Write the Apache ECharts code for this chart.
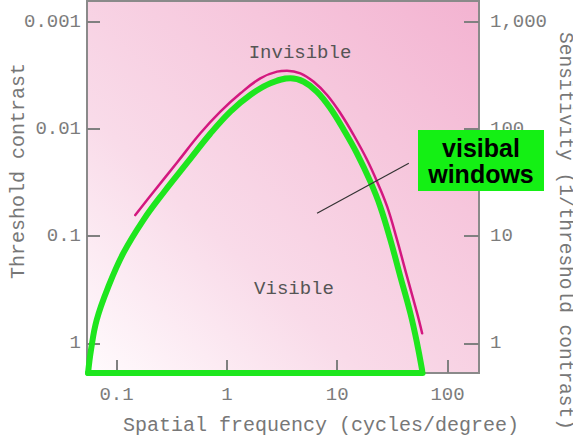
<!DOCTYPE html>
<html>
<head>
<meta charset="utf-8">
<script src="https://cdn.jsdelivr.net/npm/echarts@6/dist/echarts.min.js"></script>
<style>
html,body{margin:0;padding:0;background:#fff;}
#chart{width:573px;height:436px;}
</style>
</head>
<body>
<div id="chart"></div>
<script>
// Spatial frequency (cycles/degree) and sensitivity (1/threshold contrast)
var magentaFreq = [0.148, 0.217, 0.354, 0.575, 0.873, 1.33, 2.01, 2.85, 3.51, 4.64, 6.13, 8.10, 10.7, 14.1, 18.7, 23.0, 28.4, 34.9, 43.0, 53.1, 58.9];
var magentaSens = [15.7, 25.9, 48.6, 91, 145, 215, 296, 342, 349, 330, 275, 207, 140, 87.7, 51.3, 32.2, 18.8, 9.2, 4.18, 1.90, 1.24];

var greenFreq = [0.0552, 0.0587, 0.0661, 0.0843, 0.1152, 0.175, 0.2695, 0.4355, 0.704, 1.076, 1.63, 2.48, 3.77, 4.98, 6.57, 8.67, 11.5, 15.1, 20.0, 24.6, 30.4, 37.4, 46.1, 53.0, 58.9];
var greenSens = [0.528, 0.866, 1.649, 3.37, 6.92, 14.1, 25.8, 48.1, 89.6, 145, 207, 266, 296, 275, 222, 156, 97.7, 59.2, 32.2, 18.8, 9.2, 4.18, 1.90, 1.0, 0.56];

var baseFreq = [0.0552, 59.5];
var baseSens = [0.528, 0.528];

var pointerFreq = [6.57, 44.6];
var pointerSens = [16.3, 47.8];

var xTickValues = [0.1, 1, 10, 100];
var xTickLabels = ['0.1', '1', '10', '100'];
var contrastTickValues = [0.001, 0.01, 0.1, 1];
var contrastTickLabels = ['0.001', '0.01', '0.1', '1'];
var sensTickValues = [1, 10, 100, 1000];
var sensTickLabels = ['1', '10', '100', '1,000'];

var xMin = 0.054, xMax = 193;
var sMin = 0.528, sMax = 1560;

function pairs(xs, ys) { return xs.map(function (x, i) { return [x, ys[i]]; }); }
function labelFor(values, labels) {
  return function (v) {
    for (var i = 0; i < values.length; i++) {
      if (Math.abs(Math.log10(v) - Math.log10(values[i])) < 1e-6) return labels[i];
    }
    return '';
  };
}

var FONT = '"Liberation Mono", "Courier New", monospace';
var LABEL_COLOR = '#7c7c7c';

var chart = echarts.init(document.getElementById('chart'), null, { renderer: 'svg' });
chart.setOption({
  animation: false,
  backgroundColor: '#ffffff',
  grid: {
    left: 87, right: 94, top: 1, bottom: 63,
    show: true,
    borderColor: '#8a8a8a',
    borderWidth: 2,
    backgroundColor: new echarts.graphic.LinearGradient(0, 1, 1, 0, [
      { offset: 0, color: '#fffbfd' },
      { offset: 0.35, color: '#f9dbe9' },
      { offset: 0.7, color: '#f6c6dc' },
      { offset: 1, color: '#f3b3d1' }
    ])
  },
  xAxis: {
    type: 'log', logBase: 10, min: xMin, max: xMax,
    axisLine: { show: false },
    splitLine: { show: false },
    minorTick: { show: false },
    axisTick: { inside: true, length: 13, customValues: xTickValues, lineStyle: { color: '#808080', width: 2 } },
    axisLabel: { customValues: xTickValues, formatter: labelFor(xTickValues, xTickLabels), margin: 12,
      fontFamily: FONT, fontSize: 19, color: LABEL_COLOR }
  },
  yAxis: [
    {
      type: 'log', logBase: 10, inverse: true, min: 1 / sMax, max: 1 / sMin,
      position: 'left',
      axisLine: { show: false },
      splitLine: { show: false },
      axisTick: { inside: true, length: 13, customValues: contrastTickValues, lineStyle: { color: '#808080', width: 2 } },
      axisLabel: { customValues: contrastTickValues, formatter: labelFor(contrastTickValues, contrastTickLabels), margin: 6,
        fontFamily: FONT, fontSize: 19, color: LABEL_COLOR }
    },
    {
      type: 'log', logBase: 10, min: sMin, max: sMax,
      position: 'right',
      axisLine: { show: false },
      splitLine: { show: false },
      axisTick: { inside: true, length: 15, customValues: sensTickValues, lineStyle: { color: '#808080', width: 2 } },
      axisLabel: { customValues: sensTickValues, formatter: labelFor(sensTickValues, sensTickLabels), margin: 11,
        fontFamily: FONT, fontSize: 19, color: LABEL_COLOR }
    }
  ],
  series: [
    {
      name: 'visible window', type: 'line', yAxisIndex: 1, data: pairs(greenFreq, greenSens),
      smooth: 0.4, showSymbol: false, clip: false, z: 3,
      lineStyle: { color: '#1ee61e', width: 6, cap: 'round', join: 'round' }
    },
    {
      name: 'base', type: 'line', yAxisIndex: 1, data: pairs(baseFreq, baseSens),
      showSymbol: false, clip: false, z: 3,
      lineStyle: { color: '#1ee61e', width: 6, cap: 'round' }
    },
    {
      name: 'CSF', type: 'line', yAxisIndex: 1, data: pairs(magentaFreq, magentaSens),
      smooth: 0.4, showSymbol: false, z: 4,
      lineStyle: { color: '#d3187f', width: 2.5, cap: 'round' }
    },
    {
      name: 'pointer', type: 'line', yAxisIndex: 1, data: pairs(pointerFreq, pointerSens),
      showSymbol: false, z: 5,
      lineStyle: { color: '#333333', width: 1.2 }
    }
  ],
  graphic: [
    { type: 'text', x: 300, y: 53, z: 10,
      style: { text: 'Invisible', font: '19px ' + FONT, fill: '#555555', align: 'center', verticalAlign: 'middle' } },
    { type: 'text', x: 294, y: 289, z: 10,
      style: { text: 'Visible', font: '19px ' + FONT, fill: '#555555', align: 'center', verticalAlign: 'middle' } },
    { type: 'text', x: 18, y: 171, rotation: Math.PI / 2, z: 10,
      style: { text: 'Threshold contrast', font: '20px ' + FONT, fill: '#777777', align: 'center', verticalAlign: 'middle' } },
    { type: 'text', x: 565, y: 231, rotation: -Math.PI / 2, z: 10,
      style: { text: 'Sensitivity (1/threshold contrast)', font: '19.5px ' + FONT, fill: '#777777', align: 'center', verticalAlign: 'middle' } },
    { type: 'text', x: 321, y: 425, z: 10,
      style: { text: 'Spatial frequency (cycles/degree)', font: '20px ' + FONT, fill: '#777777', align: 'center', verticalAlign: 'middle' } },
    { type: 'rect', shape: { x: 418, y: 130, width: 126, height: 61 }, z: 20,
      style: { fill: '#14f014' } },
    { type: 'text', x: 481, y: 161, z: 21,
      style: { text: 'visibal\nwindows', font: 'bold 25px "Liberation Sans", Arial, sans-serif', lineHeight: 26,
        fill: '#000000', align: 'center', verticalAlign: 'middle' } }
  ]
});
</script>
</body>
</html>
